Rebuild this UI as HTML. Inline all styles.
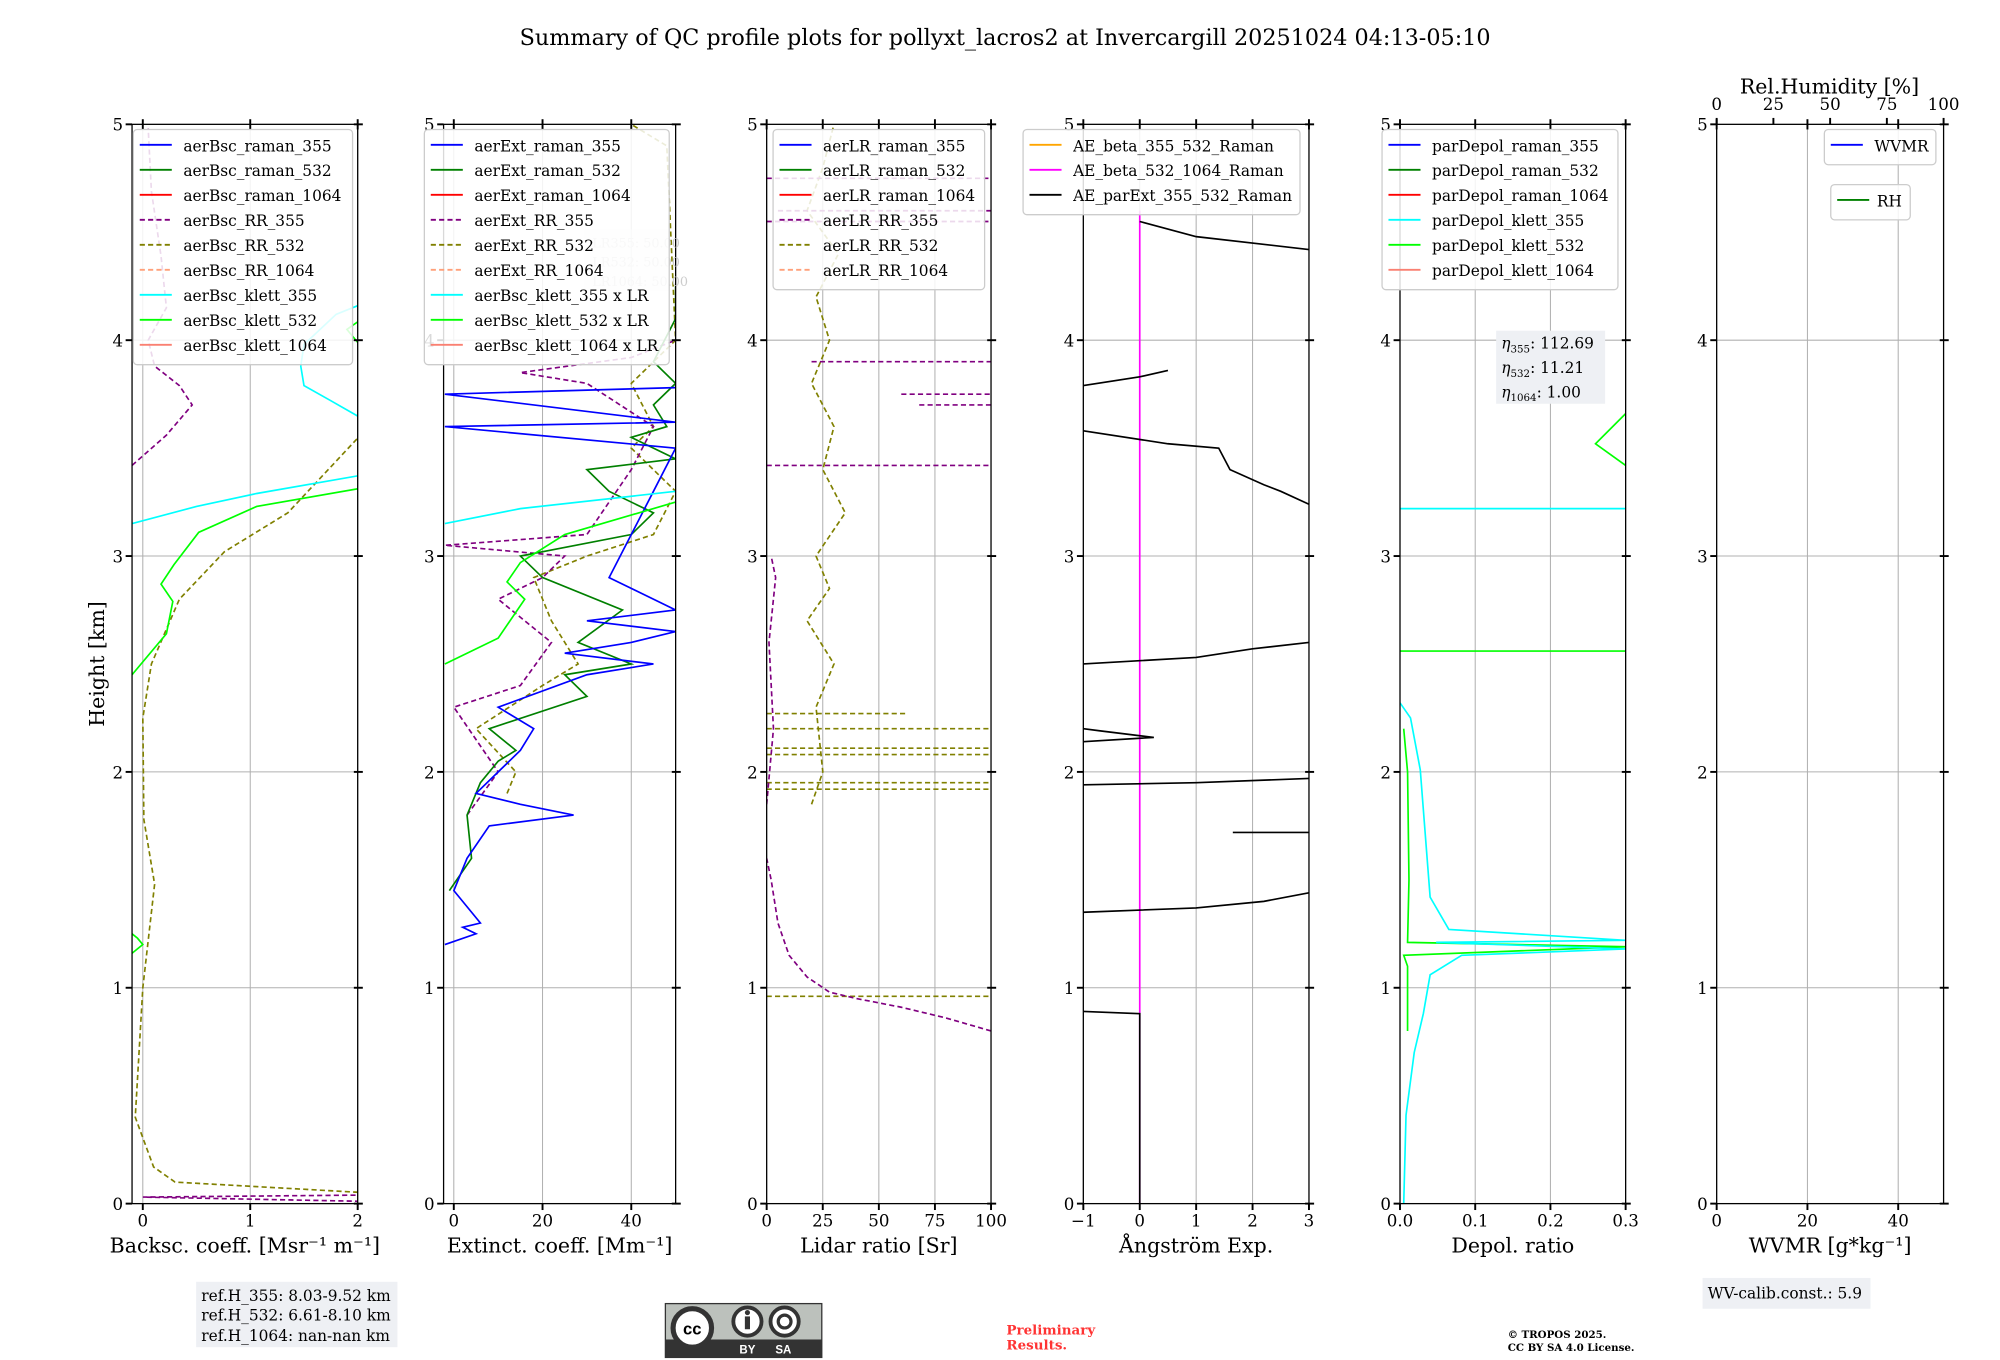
<!DOCTYPE html>
<html><head><meta charset="utf-8"><style>
html,body{margin:0;padding:0;background:#fff;width:2000px;height:1360px;overflow:hidden}
svg{display:block}
text{font-family:"DejaVu Serif","Liberation Serif",serif;fill:#000}
</style></head><body>
<svg id="fig" width="2000" height="1360" viewBox="0 0 1560 1061" preserveAspectRatio="none" xmlns="http://www.w3.org/2000/svg">
<rect width="1560" height="1061" fill="#fff"/>
<text x="784" y="35" font-size="17.4" text-anchor="middle">Summary of QC profile plots for pollyxt_lacros2 at Invercargill 20251024 04:13-05:10</text>
<text transform="translate(81,518) rotate(-90)" font-size="16" text-anchor="middle">Height [km]</text>
<g id="layer"></g>
<rect x="153" y="1000" width="157" height="51" fill="#eef0f4"/>
<text x="157" y="1015" font-size="12">ref.H_355: 8.03-9.52 km</text>
<text x="157" y="1030" font-size="12">ref.H_532: 6.61-8.10 km</text>
<text x="157" y="1046" font-size="12">ref.H_1064: nan-nan km</text>
<rect x="1328" y="997" width="131" height="24" fill="#eef0f4"/>
<text x="1332" y="1013" font-size="12">WV-calib.const.: 5.9</text>
<g>
<rect x="519" y="1017" width="122" height="42" fill="#bcc1bc" stroke="#333" stroke-width="1"/>
<rect x="519" y="1045" width="122" height="14" fill="#333"/>
<circle cx="540" cy="1036" r="15" fill="#fff" stroke="#333" stroke-width="4"/>
<text x="540" y="1041" font-size="13" font-weight="bold" text-anchor="middle" style="font-family:'Liberation Sans',sans-serif">cc</text>
<circle cx="583" cy="1031" r="11" fill="#fff" stroke="#333" stroke-width="3"/>
<rect x="581" y="1027" width="4" height="10" fill="#333"/><circle cx="583" cy="1024" r="2" fill="#333"/>
<circle cx="612" cy="1031" r="11" fill="#fff" stroke="#333" stroke-width="3"/>
<circle cx="612" cy="1031" r="5" fill="none" stroke="#333" stroke-width="2.5"/>
<text x="583" y="1056" font-size="9" font-weight="bold" text-anchor="middle" style="fill:#fff;font-family:'Liberation Sans',sans-serif">BY</text>
<text x="611" y="1056" font-size="9" font-weight="bold" text-anchor="middle" style="fill:#fff;font-family:'Liberation Sans',sans-serif">SA</text>
</g>
<text x="785" y="1041" font-size="10.5" font-weight="bold" style="fill:#ff3333">Preliminary</text>
<text x="785" y="1053" font-size="10.5" font-weight="bold" style="fill:#ff3333">Results.</text>
<text x="1176" y="1044" font-size="8" font-weight="bold">© TROPOS 2025.</text>
<text x="1176" y="1054" font-size="8" font-weight="bold">CC BY SA 4.0 License.</text>
</svg>
<script>
var bscRR532 = [[2.1,0.02],[2.1,0.05],[0.3,0.1],[0.1,0.17],[-0.07,0.4],[0,1.0],[0.11,1.48],[0.01,1.78],[0,2.25],[0.08,2.5],[0.34,2.8],[0.76,3.02],[1.35,3.2],[2.1,3.6]];
var bscRR355 = [[-0.1,3.42],[0.22,3.56],[0.46,3.7],[0.34,3.79],[0.11,3.88],[0.05,4.0],[0.22,4.15],[0.17,4.39],[0.08,4.69],[0.05,4.98]];
var bscRR355Low = [[2.1,0.01],[0.0,0.03],[2.1,0.04]];
var bscKlett355a = [[-0.1,3.15],[0.5,3.23],[1.06,3.29],[2.1,3.38]];
var bscKlett355b = [[2.1,3.62],[1.75,3.72],[1.5,3.79],[1.47,3.88],[1.5,3.98],[1.8,4.12],[2.1,4.18]];
var bscKlett532a = [[-0.1,2.45],[0.22,2.64],[0.28,2.79],[0.17,2.87],[0.29,2.96],[0.52,3.11],[1.06,3.23],[2.1,3.32]];
var bscKlett532b = [[2.1,3.93],[1.9,4.05],[2.1,4.12]];
var bscKlett532c = [[-0.1,1.16],[0.0,1.2],[-0.05,1.23],[-0.1,1.25]];

var extRaman355 = [[-2,1.2],[5,1.25],[2,1.28],[6,1.3],[0,1.45],[3,1.6],[8,1.75],[27,1.8],[15,1.85],[5,1.9],[10,2.0],[15,2.1],[18,2.2],[10,2.3],[30,2.45],[45,2.5],[25,2.55],[40,2.6],[50,2.65],[30,2.7],[50,2.75],[35,2.9],[40,3.1],[45,3.3],[50,3.5],[-2,3.6],[50,3.62],[-2,3.75],[50,3.78]];
var extRaman532 = [[-1,1.45],[4,1.6],[3,1.8],[6,1.95],[10,2.05],[14,2.1],[8,2.2],[30,2.35],[25,2.45],[40,2.5],[28,2.6],[38,2.75],[20,2.9],[15,3.0],[40,3.1],[45,3.2],[35,3.3],[30,3.4],[50,3.45],[40,3.55],[48,3.6],[45,3.7],[50,3.8],[45,3.9],[50,4.1],[50,4.25]];
var extRR355 = [[3,1.8],[10,2.0],[0,2.3],[15,2.4],[22,2.6],[10,2.8],[20,2.9],[25,3.0],[-2,3.05],[30,3.1],[40,3.4],[45,3.6],[30,3.8],[15,3.85],[40,3.92],[50,4.0]];
var extRR532 = [[12,1.9],[14,2.0],[5,2.2],[20,2.4],[28,2.5],[22,2.7],[18,2.9],[30,3.0],[45,3.1],[50,3.3],[40,3.5],[45,3.6],[40,3.8],[50,4.0],[48,4.9],[40,5.0]];
var extKlett355 = [[-2,3.15],[15,3.22],[50,3.3]];
var extKlett532 = [[-2,2.5],[10,2.62],[16,2.8],[12,2.88],[15,2.97],[25,3.1],[50,3.25]];

var lrRR532 = [[20,1.85],[25,2.0],[22,2.3],[30,2.5],[18,2.7],[28,2.85],[22,3.0],[35,3.2],[25,3.4],[30,3.6],[20,3.8],[28,4.0],[22,4.2],[32,4.4],[18,4.6],[25,4.8],[30,5.0]];
var lrRR532Hlines = [2.27,2.2,2.11,2.08,1.95,1.92,0.96];
var lrRR532Hend = [62,100,100,100,100,100,100];
var lrRR355 = [[100,0.8],[80,0.86],[60,0.91],[40,0.95],[28,0.98],[18,1.05],[10,1.15],[5,1.3],[2,1.5],[0,1.6]];
var lrRR355b = [[0,1.85],[3,2.2],[1,2.6],[4,2.9],[2,3.0]];
var lrRR355Hlines = [3.42,3.9,3.75,3.7,4.55,4.6,4.75];
var lrRR355Hstart = [0,20,60,68,0,5,0];

var aeSegs = [
 [[-1,0.89],[0,0.88],[0,0]],
 [[-1,1.35],[1,1.37],[2.2,1.4],[3,1.44]],
 [[1.65,1.72],[3,1.72]],
 [[-1,1.94],[1,1.95],[3,1.97]],
 [[-1,2.2],[-0.7,2.19],[0.25,2.16],[-1,2.14]],
 [[-1,2.5],[1,2.53],[2,2.57],[3,2.6]],
 [[-1,3.58],[0.5,3.52],[1.4,3.5],[1.6,3.4],[2.2,3.33],[2.5,3.3],[3,3.24]],
 [[-1,3.79],[0,3.83],[0.5,3.86]],
 [[0,4.55],[1,4.48],[3,4.42]]
];
var aeMagenta = [[0,0],[0,4.6]];

var pdKlett355 = [[0.005,0],[0.008,0.41],[0.019,0.7],[0.031,0.88],[0.04,1.06],[0.082,1.15],[0.3,1.18],[0.048,1.21],[0.3,1.22],[0.065,1.27],[0.04,1.42],[0.027,2.01],[0.014,2.25],[0,2.32]];
var pdKlett532 = [[0.01,0.8],[0.01,1.1],[0.005,1.15],[0.3,1.19],[0.01,1.21],[0.012,1.5],[0.01,2.0],[0.005,2.2]];
var pdKlett532b = [[0.3,3.66],[0.26,3.52],[0.3,3.42]];
var pdCyanH = 3.22, pdGreenH = 2.56;

var NS="http://www.w3.org/2000/svg";
var Y0=939, Y5=97;
function sy(h){return Y0+(Y5-Y0)*h/5;}
var panels=[
 {id:'bsc',x0:103,x1:279,v0:-0.1,v1:2.0,ticks:[0,1,2],lab:['0','1','2'],title:'Backsc. coeff. [Msr\u207B\u00B9 m\u207B\u00B9]'},
 {id:'ext',x0:346,x1:527,v0:-2.3,v1:50,ticks:[0,20,40],lab:['0','20','40'],title:'Extinct. coeff. [Mm\u207B\u00B9]'},
 {id:'lr',x0:598,x1:773,v0:0,v1:100,ticks:[0,25,50,75,100],lab:['0','25','50','75','100'],title:'Lidar ratio [Sr]'},
 {id:'ae',x0:845,x1:1021,v0:-1,v1:3,ticks:[-1,0,1,2,3],lab:['\u22121','0','1','2','3'],title:'\u00C5ngstr\u00F6m Exp.'},
 {id:'pd',x0:1092,x1:1268,v0:0,v1:0.3,ticks:[0,0.1,0.2,0.3],lab:['0.0','0.1','0.2','0.3'],title:'Depol. ratio'},
 {id:'wv',x0:1339,x1:1516,v0:0,v1:50,ticks:[0,20,40],lab:['0','20','40'],title:'WVMR [g*kg\u207B\u00B9]'}
];
var layer=document.getElementById('layer');
function mk(tag,attrs,parent){var e=document.createElementNS(NS,tag);for(var k in attrs)e.setAttribute(k,attrs[k]);(parent||layer).appendChild(e);return e;}
function sxf(p){return function(v){return p.x0+(p.x1-p.x0)*(v-p.v0)/(p.v1-p.v0);};}

var defs=mk('defs',{});
panels.forEach(function(p,i){
  var cp=mk('clipPath',{id:'clip'+i},defs);
  mk('rect',{x:p.x0,y:Y5,width:p.x1-p.x0,height:Y0-Y5},cp);
  var sx=sxf(p);
  var g=mk('g',{});
  
  
  p.ticks.forEach(function(t){var x=sx(t);var l=mk('line',{x1:x,x2:x,y1:Y5,y2:Y0,stroke:'#b0b0b0','stroke-width':0.8},g);
    
    });
  for(var h=1;h<=4;h++){var l=mk('line',{x1:p.x0,x2:p.x1,y1:sy(h),y2:sy(h),stroke:'#b0b0b0','stroke-width':0.8},g);
    
    }
  p.g=g; p.sx=sx; p.clip='url(#clip'+i+')';
});

function line(p,pts,color,dash,name,w){
  var d=pts.map(function(q,j){return (j?'L':'M')+p.sx(q[0]).toFixed(1)+','+sy(q[1]).toFixed(1);}).join('');
  var e=mk('path',{d:d,fill:'none',stroke:color,'stroke-width':w||1.3,'clip-path':p.clip},p.g);
  if(dash)e.setAttribute('stroke-dasharray','4,2.5');
  
  
}
var P=panels;
line(P[0],bscRR532,'#808000',1,'aerbsc-rr-532-line');
line(P[0],bscRR355,'#800080',1,'aerbsc-rr-355-line');
line(P[0],bscRR355Low,'#800080',1,'aerbsc-rr-355-low-line');
line(P[0],bscKlett355a,'#00ffff',0,'aerbsc-klett-355-line');
line(P[0],bscKlett355b,'#00ffff',0,'aerbsc-klett-355-upper-line');
line(P[0],bscKlett532a,'#00ff00',0,'aerbsc-klett-532-line');
line(P[0],bscKlett532b,'#00ff00',0,'aerbsc-klett-532-upper-line');
line(P[0],bscKlett532c,'#00ff00',0,'aerbsc-klett-532-low-line');
line(P[1],extRR532,'#808000',1,'aerext-rr-532-line');
line(P[1],extRR355,'#800080',1,'aerext-rr-355-line');
line(P[1],extRaman532,'#008000',0,'aerext-raman-532-line');
line(P[1],extRaman355,'#0000ff',0,'aerext-raman-355-line');
line(P[1],extKlett355,'#00ffff',0,'aerbsc-klett-355-lr-line');
line(P[1],extKlett532,'#00ff00',0,'aerbsc-klett-532-lr-line');
line(P[2],lrRR532,'#808000',1,'aerlr-rr-532-line');
lrRR532Hlines.forEach(function(h,k){line(P[2],[[0,h],[lrRR532Hend[k],h]],'#808000',1,'aerlr-rr-532-hline');});
line(P[2],lrRR355,'#800080',1,'aerlr-rr-355-line');
line(P[2],lrRR355b,'#800080',1,'aerlr-rr-355-upper-line');
lrRR355Hlines.forEach(function(h,k){line(P[2],[[lrRR355Hstart[k],h],[100,h]],'#800080',1,'aerlr-rr-355-hline');});
line(P[3],aeMagenta,'#ff00ff',0,'ae-beta-532-1064-line');
aeSegs.forEach(function(s){line(P[3],s,'#000',0,'ae-parext-355-532-line');});
line(P[4],pdKlett532,'#00ff00',0,'pardepol-klett-532-line');
line(P[4],pdKlett532b,'#00ff00',0,'pardepol-klett-532-upper-line');
line(P[4],[[0,pdGreenH],[0.3,pdGreenH]],'#00ff00',0,'pardepol-klett-532-hline');
line(P[4],pdKlett355,'#00ffff',0,'pardepol-klett-355-line');
line(P[4],[[0,pdCyanH],[0.3,pdCyanH]],'#00ffff',0,'pardepol-klett-355-hline');

panels.forEach(function(p){
  var g=p.g;
  var f=mk('rect',{x:p.x0,y:Y5,width:p.x1-p.x0,height:Y0-Y5,fill:'none',stroke:'#000','stroke-width':1},g);
  
  
  p.ticks.forEach(function(t,k){var x=p.sx(t);
    mk('line',{x1:x,x2:x,y1:Y0,y2:Y0+5,stroke:'#000','stroke-width':1.5},g);
    mk('line',{x1:x,x2:x,y1:Y5-4,y2:Y5+4,stroke:'#000','stroke-width':1.5},g);
    var tx=mk('text',{x:x,y:Y0+18,'font-size':13,'text-anchor':'middle'},g);tx.textContent=p.lab[k];
    
    });
  for(var h=0;h<=5;h++){
    mk('line',{x1:p.x0-5,x2:p.x0,y1:sy(h),y2:sy(h),stroke:'#000','stroke-width':1.5},g);
    mk('line',{x1:p.x1-3,x2:p.x1+4,y1:sy(h),y2:sy(h),stroke:'#000','stroke-width':1.5},g);
    var ty=mk('text',{x:p.x0-7,y:sy(h)+5,'font-size':13,'text-anchor':'end'},g);ty.textContent=String(h);
    
    }
  var at=mk('text',{x:(p.x0+p.x1)/2,y:977,'font-size':16,'text-anchor':'middle'},g);at.textContent=p.title;
  
  
});
(function(){var p=P[5];var g=p.g;var rh=[0,25,50,75,100];
  rh.forEach(function(v){var x=p.x0+(p.x1-p.x0)*v/100;
    mk('line',{x1:x,x2:x,y1:Y5-5,y2:Y5,stroke:'#000','stroke-width':1.5},g);
    var t=mk('text',{x:x,y:86,'font-size':13,'text-anchor':'middle'},g);t.textContent=String(v);
    
    });
  var t=mk('text',{x:1427,y:73,'font-size':16,'text-anchor':'middle'},g);t.textContent='Rel.Humidity [%]';
  
  
})();

function legend(x,y,w,entries,name,tx){
  var g=mk('g',{});
  
  
  mk('rect',{x:x,y:y,width:w,height:entries.length*19.5+8,rx:3,fill:'#fff','fill-opacity':0.85,stroke:'#ccc','stroke-width':1},g);
  entries.forEach(function(e,k){var yy=y+12+k*19.5;
    var l=mk('line',{x1:x+5,x2:x+30,y1:yy,y2:yy,stroke:e[1],'stroke-width':1.5},g);
    if(e[2])l.setAttribute('stroke-dasharray','4,2.5');
    var t=mk('text',{x:x+(tx||39),y:yy+5,'font-size':12},g);t.textContent=e[0];
    
    });
}
var C=['#0000ff','#008000','#ff0000','#800080','#808000','#ffa07a','#00ffff','#00ff00','#fa8072'];
function ents(names){return names.map(function(n,k){return [n,C[k],k>=3&&k<=5];});}
(function(){var g=mk('g',{});
 
 
 mk('rect',{x:456,y:179,width:66,height:48,fill:'#eef0f4','fill-opacity':0.6},g);
 ['LR355: 50.00','LR532: 50.00','LR1064: 50.00'].forEach(function(s,k){var t=mk('text',{x:462,y:193+k*15,'font-size':10,style:'fill:#ccc'},g);t.textContent=s;});
})();
legend(104,101,171,ents(['aerBsc_raman_355','aerBsc_raman_532','aerBsc_raman_1064','aerBsc_RR_355','aerBsc_RR_532','aerBsc_RR_1064','aerBsc_klett_355','aerBsc_klett_532','aerBsc_klett_1064']),'legend-backscatter');
legend(331,101,191,ents(['aerExt_raman_355','aerExt_raman_532','aerExt_raman_1064','aerExt_RR_355','aerExt_RR_532','aerExt_RR_1064','aerBsc_klett_355 x LR','aerBsc_klett_532 x LR','aerBsc_klett_1064 x LR']),'legend-extinction');
legend(603,101,165,ents(['aerLR_raman_355','aerLR_raman_532','aerLR_raman_1064','aerLR_RR_355','aerLR_RR_532','aerLR_RR_1064']),'legend-lidar-ratio');
legend(798,101,216,[['AE_beta_355_532_Raman','#ffa500',0],['AE_beta_532_1064_Raman','#ff00ff',0],['AE_parExt_355_532_Raman','#000',0]],'legend-angstrom');
legend(1078,101,184,[['parDepol_raman_355','#0000ff',0],['parDepol_raman_532','#008000',0],['parDepol_raman_1064','#ff0000',0],['parDepol_klett_355','#00ffff',0],['parDepol_klett_532','#00ff00',0],['parDepol_klett_1064','#fa8072',0]],'legend-depol');
legend(1423,101,87,[['WVMR','#0000ff',0]],'legend-wvmr');
legend(1428,144,62,[['RH','#008000',0]],'legend-rh',36);
(function(){var g=mk('g',{});
 
 
 mk('rect',{x:1167,y:258,width:85,height:57,fill:'#eef0f4'},g);
 [['355','112.69'],['532','11.21'],['1064','1.00']].forEach(function(s,k){
   var t=mk('text',{x:1171,y:272+k*19,'font-size':12},g);
   t.innerHTML='<tspan font-style="italic">η</tspan><tspan font-size="8" dy="3">'+s[0]+'</tspan><tspan dy="-3">: '+s[1]+'</tspan>';});
})();
</script>
</body></html>
